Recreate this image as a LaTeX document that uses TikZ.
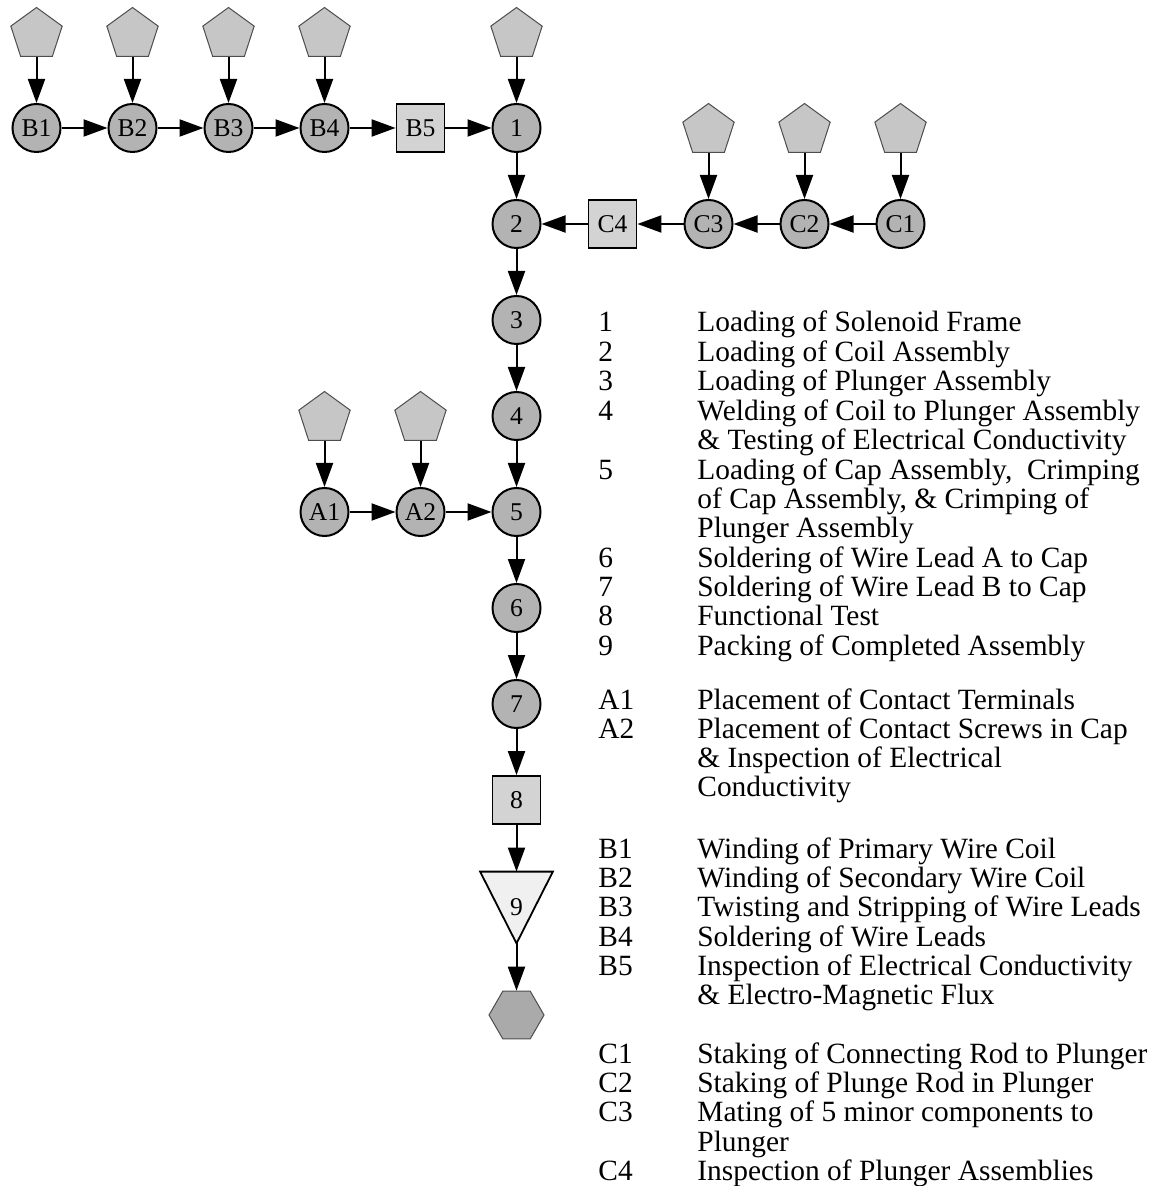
\documentclass[tikz,border=0pt]{standalone}
\usepackage{fontspec}
\setmainfont{Liberation Serif}
\usetikzlibrary{arrows.meta,shapes.geometric}

\definecolor{opgray}{HTML}{B3B3B3}
\definecolor{inspgray}{HTML}{D3D3D3}
\definecolor{srcgray}{HTML}{C6C6C6}
\definecolor{srcline}{HTML}{4D4D4D}
\definecolor{storegray}{HTML}{F0F0F0}
\definecolor{endgray}{HTML}{AAAAAA}

\begin{document}
\begin{tikzpicture}[x=0.5pt,y=-0.5pt,
	every node/.style={font=\fontsize{12.8}{14}\selectfont},
	op/.style={circle,draw,line width=1pt,fill=opgray,minimum size=24pt,inner sep=0pt},
	insp/.style={rectangle,draw,line width=0.9pt,fill=inspgray,minimum size=24pt,inner sep=0pt},
	src/.style={regular polygon,regular polygon sides=5,draw=srcline,line width=0.5pt,fill=srcgray,minimum size=27pt,inner sep=0pt},
	flow/.style={-{Triangle[length=12pt,width=8.5pt]},line width=1pt},
	legend/.style={anchor=base west,inner sep=0pt,font=\fontsize{14.7}{14.55}\selectfont}]
	\useasboundingbox (0,0) rectangle (1155,1186);

	% sub-assembly B
	\node[op] (b1) at (36.5,128) {B1};
	\node[op] (b2) at (132.5,128) {B2};
	\node[op] (b3) at (228.5,128) {B3};
	\node[op] (b4) at (324.5,128) {B4};
	\node[insp] (b5) at (420.5,128) {B5};

	% main line
	\node[op] (s1) at (516.5,128) {1};
	\node[op] (s2) at (516.5,224) {2};
	\node[op] (s3) at (516.5,320) {3};
	\node[op] (s4) at (516.5,416) {4};
	\node[op] (s5) at (516.5,512) {5};
	\node[op] (s6) at (516.5,608) {6};
	\node[op] (s7) at (516.5,704) {7};
	\node[insp] (s8) at (516.5,800) {8};
	\node[minimum width=36pt,minimum height=35.5pt,inner sep=0pt] (s9) at (516.5,907.5) {};
	\draw[line width=0.9pt,fill=storegray] (s9.north west) -- (s9.north east) -- (s9.south) -- cycle;
	\node (s9text) at (s9.center) {9};
	\node[regular polygon,regular polygon sides=6,draw=srcline,line width=0.5pt,fill=endgray,minimum size=27.5pt,inner sep=0pt] (done) at (516.5,1015) {};

	% sub-assembly C
	\node[insp] (c4) at (612.5,224) {C4};
	\node[op] (c3) at (708.5,224) {C3};
	\node[op] (c2) at (804.5,224) {C2};
	\node[op] (c1) at (900.5,224) {C1};

	% sub-assembly A
	\node[op] (a1) at (324.5,512) {A1};
	\node[op] (a2) at (420.5,512) {A2};

	% incoming parts
	\node[src] (pb1) at (36.5,34.5) {};
	\node[src] (pb2) at (132.5,34.5) {};
	\node[src] (pb3) at (228.5,34.5) {};
	\node[src] (pb4) at (324.5,34.5) {};
	\node[src] (ps1) at (516.5,34.5) {};
	\node[src] (pc3) at (708.5,130.5) {};
	\node[src] (pc2) at (804.5,130.5) {};
	\node[src] (pc1) at (900.5,130.5) {};
	\node[src] (pa1) at (324.5,418.5) {};
	\node[src] (pa2) at (420.5,418.5) {};

	\draw[flow] (pb1) -- (b1);
	\draw[flow] (pb2) -- (b2);
	\draw[flow] (pb3) -- (b3);
	\draw[flow] (pb4) -- (b4);
	\draw[flow] (ps1) -- (s1);
	\draw[flow] (pc3) -- (c3);
	\draw[flow] (pc2) -- (c2);
	\draw[flow] (pc1) -- (c1);
	\draw[flow] (pa1) -- (a1);
	\draw[flow] (pa2) -- (a2);

	\draw[flow] (b1) -- (b2);
	\draw[flow] (b2) -- (b3);
	\draw[flow] (b3) -- (b4);
	\draw[flow] (b4) -- (b5);
	\draw[flow] (b5) -- (s1);

	\draw[flow] (c1) -- (c2);
	\draw[flow] (c2) -- (c3);
	\draw[flow] (c3) -- (c4);
	\draw[flow] (c4) -- (s2);

	\draw[flow] (a1) -- (a2);
	\draw[flow] (a2) -- (s5);

	\draw[flow] (s1) -- (s2);
	\draw[flow] (s2) -- (s3);
	\draw[flow] (s3) -- (s4);
	\draw[flow] (s4) -- (s5);
	\draw[flow] (s5) -- (s6);
	\draw[flow] (s6) -- (s7);
	\draw[flow] (s7) -- (s8);
	\draw[flow] (s8) -- (s9.north);
	\draw[flow] (s9.south) -- (done);

	% legend
	\node[legend] (legmain) at (598,332) {\begin{tabular}[t]{@{}p{49.5pt}@{}l@{}}
		1 & Loading of Solenoid Frame\\
		2 & Loading of Coil Assembly\\
		3 & Loading of Plunger Assembly\\
		4 & Welding of Coil to Plunger Assembly\\
		  & \& Testing of Electrical Conductivity\\
		5 & Loading of Cap Assembly,\ \ Crimping\\
		  & of Cap Assembly, \& Crimping of\\
		  & Plunger Assembly\\
		6 & Soldering of Wire Lead A to Cap\\
		7 & Soldering of Wire Lead B to Cap\\
		8 & Functional Test\\
		9 & Packing of Completed Assembly
	\end{tabular}};
	\node[legend] (lega) at (598,709) {\begin{tabular}[t]{@{}p{49.5pt}@{}l@{}}
		A1 & Placement of Contact Terminals\\
		A2 & Placement of Contact Screws in Cap\\
		   & \& Inspection of Electrical\\
		   & Conductivity
	\end{tabular}};
	\node[legend] (legb) at (598,858) {\begin{tabular}[t]{@{}p{49.5pt}@{}l@{}}
		B1 & Winding of Primary Wire Coil\\
		B2 & Winding of Secondary Wire Coil\\
		B3 & Twisting and Stripping of Wire Leads\\
		B4 & Soldering of Wire Leads\\
		B5 & Inspection of Electrical Conductivity\\
		   & \& Electro-Magnetic Flux
	\end{tabular}};
	\node[legend] (legc) at (598,1063) {\begin{tabular}[t]{@{}p{49.5pt}@{}l@{}}
		C1 & Staking of Connecting Rod to Plunger\\
		C2 & Staking of Plunge Rod in Plunger\\
		C3 & Mating of 5 minor components to\\
		   & Plunger\\
		C4 & Inspection of Plunger Assemblies
	\end{tabular}};
\end{tikzpicture}
\end{document}
